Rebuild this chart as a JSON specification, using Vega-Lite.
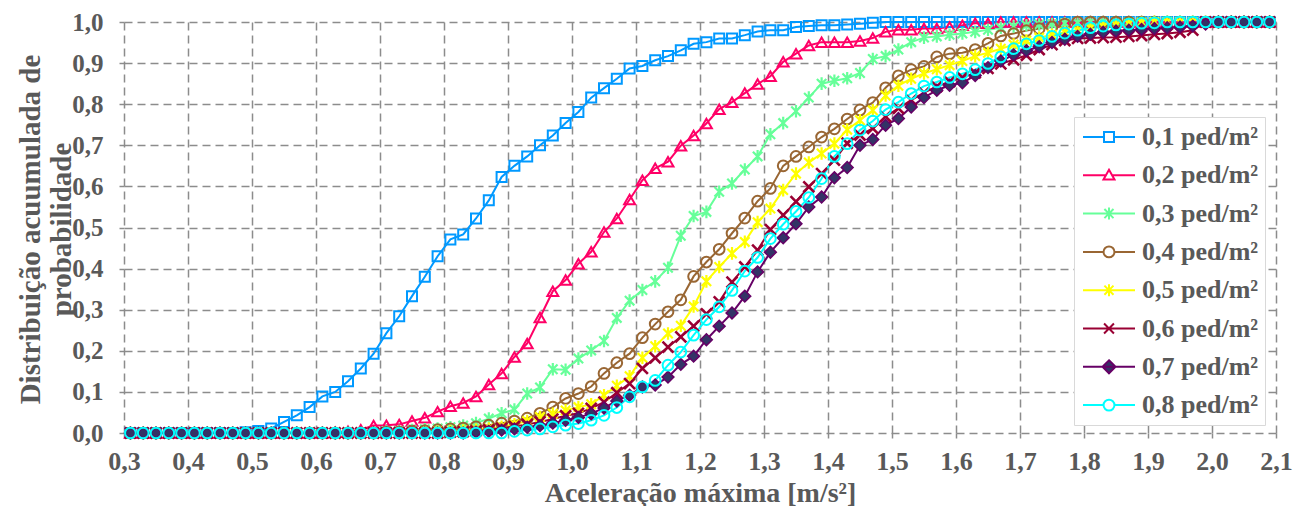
{
"$schema": "https://vega.github.io/schema/vega-lite/v6.json",
"width": 1152, "height": 411,
"autosize": {"type": "none"},
"padding": {"left": 124, "top": 22, "right": 17, "bottom": 73},
"background": "white",
"config": {"view": {"stroke": null}, "font": "Liberation Serif"},
"data": {"values": [
{"serie":"0,1 ped/m²","x":0.31,"y":0},{"serie":"0,1 ped/m²","x":0.33,"y":0},{"serie":"0,1 ped/m²","x":0.35,"y":0},{"serie":"0,1 ped/m²","x":0.37,"y":0},{"serie":"0,1 ped/m²","x":0.39,"y":0},{"serie":"0,1 ped/m²","x":0.41,"y":0},{"serie":"0,1 ped/m²","x":0.43,"y":0},{"serie":"0,1 ped/m²","x":0.45,"y":0},{"serie":"0,1 ped/m²","x":0.47,"y":0},{"serie":"0,1 ped/m²","x":0.49,"y":0.002},{"serie":"0,1 ped/m²","x":0.51,"y":0.005},{"serie":"0,1 ped/m²","x":0.53,"y":0.011},{"serie":"0,1 ped/m²","x":0.55,"y":0.027},{"serie":"0,1 ped/m²","x":0.57,"y":0.043},{"serie":"0,1 ped/m²","x":0.59,"y":0.063},{"serie":"0,1 ped/m²","x":0.61,"y":0.089},{"serie":"0,1 ped/m²","x":0.63,"y":0.100},{"serie":"0,1 ped/m²","x":0.65,"y":0.126},{"serie":"0,1 ped/m²","x":0.67,"y":0.157},{"serie":"0,1 ped/m²","x":0.69,"y":0.193},{"serie":"0,1 ped/m²","x":0.71,"y":0.243},{"serie":"0,1 ped/m²","x":0.73,"y":0.284},{"serie":"0,1 ped/m²","x":0.75,"y":0.333},{"serie":"0,1 ped/m²","x":0.77,"y":0.380},{"serie":"0,1 ped/m²","x":0.79,"y":0.430},{"serie":"0,1 ped/m²","x":0.81,"y":0.471},{"serie":"0,1 ped/m²","x":0.83,"y":0.483},{"serie":"0,1 ped/m²","x":0.85,"y":0.522},{"serie":"0,1 ped/m²","x":0.87,"y":0.566},{"serie":"0,1 ped/m²","x":0.89,"y":0.623},{"serie":"0,1 ped/m²","x":0.91,"y":0.650},{"serie":"0,1 ped/m²","x":0.93,"y":0.673},{"serie":"0,1 ped/m²","x":0.95,"y":0.700},{"serie":"0,1 ped/m²","x":0.97,"y":0.724},{"serie":"0,1 ped/m²","x":0.99,"y":0.754},{"serie":"0,1 ped/m²","x":1.01,"y":0.781},{"serie":"0,1 ped/m²","x":1.03,"y":0.816},{"serie":"0,1 ped/m²","x":1.05,"y":0.839},{"serie":"0,1 ped/m²","x":1.07,"y":0.862},{"serie":"0,1 ped/m²","x":1.09,"y":0.887},{"serie":"0,1 ped/m²","x":1.11,"y":0.893},{"serie":"0,1 ped/m²","x":1.13,"y":0.907},{"serie":"0,1 ped/m²","x":1.15,"y":0.917},{"serie":"0,1 ped/m²","x":1.17,"y":0.931},{"serie":"0,1 ped/m²","x":1.19,"y":0.947},{"serie":"0,1 ped/m²","x":1.21,"y":0.951},{"serie":"0,1 ped/m²","x":1.23,"y":0.960},{"serie":"0,1 ped/m²","x":1.25,"y":0.960},{"serie":"0,1 ped/m²","x":1.27,"y":0.968},{"serie":"0,1 ped/m²","x":1.29,"y":0.977},{"serie":"0,1 ped/m²","x":1.31,"y":0.980},{"serie":"0,1 ped/m²","x":1.33,"y":0.980},{"serie":"0,1 ped/m²","x":1.35,"y":0.988},{"serie":"0,1 ped/m²","x":1.37,"y":0.990},{"serie":"0,1 ped/m²","x":1.39,"y":0.992},{"serie":"0,1 ped/m²","x":1.41,"y":0.992},{"serie":"0,1 ped/m²","x":1.43,"y":0.994},{"serie":"0,1 ped/m²","x":1.45,"y":0.996},{"serie":"0,1 ped/m²","x":1.47,"y":0.998},{"serie":"0,1 ped/m²","x":1.49,"y":1},{"serie":"0,1 ped/m²","x":1.51,"y":1},{"serie":"0,1 ped/m²","x":1.53,"y":1},{"serie":"0,1 ped/m²","x":1.55,"y":1},{"serie":"0,1 ped/m²","x":1.57,"y":1},{"serie":"0,1 ped/m²","x":1.59,"y":1},{"serie":"0,1 ped/m²","x":1.61,"y":1},{"serie":"0,1 ped/m²","x":1.63,"y":1},{"serie":"0,1 ped/m²","x":1.65,"y":1},{"serie":"0,1 ped/m²","x":1.67,"y":1},{"serie":"0,1 ped/m²","x":1.69,"y":1},{"serie":"0,1 ped/m²","x":1.71,"y":1},{"serie":"0,1 ped/m²","x":1.73,"y":1},{"serie":"0,1 ped/m²","x":1.75,"y":1},{"serie":"0,1 ped/m²","x":1.77,"y":1},{"serie":"0,1 ped/m²","x":1.79,"y":1},{"serie":"0,1 ped/m²","x":1.81,"y":1},{"serie":"0,1 ped/m²","x":1.83,"y":1},{"serie":"0,1 ped/m²","x":1.85,"y":1},{"serie":"0,1 ped/m²","x":1.87,"y":1},{"serie":"0,1 ped/m²","x":1.89,"y":1},{"serie":"0,1 ped/m²","x":1.91,"y":1},{"serie":"0,1 ped/m²","x":1.93,"y":1},{"serie":"0,1 ped/m²","x":1.95,"y":1},{"serie":"0,1 ped/m²","x":1.97,"y":1},{"serie":"0,1 ped/m²","x":1.99,"y":1},{"serie":"0,1 ped/m²","x":2.01,"y":1},{"serie":"0,1 ped/m²","x":2.03,"y":1},{"serie":"0,1 ped/m²","x":2.05,"y":1},{"serie":"0,1 ped/m²","x":2.07,"y":1},{"serie":"0,1 ped/m²","x":2.09,"y":1},
{"serie":"0,2 ped/m²","x":0.31,"y":0},{"serie":"0,2 ped/m²","x":0.33,"y":0},{"serie":"0,2 ped/m²","x":0.35,"y":0},{"serie":"0,2 ped/m²","x":0.37,"y":0},{"serie":"0,2 ped/m²","x":0.39,"y":0},{"serie":"0,2 ped/m²","x":0.41,"y":0},{"serie":"0,2 ped/m²","x":0.43,"y":0},{"serie":"0,2 ped/m²","x":0.45,"y":0},{"serie":"0,2 ped/m²","x":0.47,"y":0},{"serie":"0,2 ped/m²","x":0.49,"y":0},{"serie":"0,2 ped/m²","x":0.51,"y":0},{"serie":"0,2 ped/m²","x":0.53,"y":0},{"serie":"0,2 ped/m²","x":0.55,"y":0},{"serie":"0,2 ped/m²","x":0.57,"y":0},{"serie":"0,2 ped/m²","x":0.59,"y":0},{"serie":"0,2 ped/m²","x":0.61,"y":0},{"serie":"0,2 ped/m²","x":0.63,"y":0.002},{"serie":"0,2 ped/m²","x":0.65,"y":0.004},{"serie":"0,2 ped/m²","x":0.67,"y":0.008},{"serie":"0,2 ped/m²","x":0.69,"y":0.018},{"serie":"0,2 ped/m²","x":0.71,"y":0.019},{"serie":"0,2 ped/m²","x":0.73,"y":0.021},{"serie":"0,2 ped/m²","x":0.75,"y":0.029},{"serie":"0,2 ped/m²","x":0.77,"y":0.037},{"serie":"0,2 ped/m²","x":0.79,"y":0.052},{"serie":"0,2 ped/m²","x":0.81,"y":0.065},{"serie":"0,2 ped/m²","x":0.83,"y":0.073},{"serie":"0,2 ped/m²","x":0.85,"y":0.089},{"serie":"0,2 ped/m²","x":0.87,"y":0.118},{"serie":"0,2 ped/m²","x":0.89,"y":0.145},{"serie":"0,2 ped/m²","x":0.91,"y":0.185},{"serie":"0,2 ped/m²","x":0.93,"y":0.218},{"serie":"0,2 ped/m²","x":0.95,"y":0.281},{"serie":"0,2 ped/m²","x":0.97,"y":0.345},{"serie":"0,2 ped/m²","x":0.99,"y":0.372},{"serie":"0,2 ped/m²","x":1.01,"y":0.412},{"serie":"0,2 ped/m²","x":1.03,"y":0.441},{"serie":"0,2 ped/m²","x":1.05,"y":0.489},{"serie":"0,2 ped/m²","x":1.07,"y":0.522},{"serie":"0,2 ped/m²","x":1.09,"y":0.568},{"serie":"0,2 ped/m²","x":1.11,"y":0.615},{"serie":"0,2 ped/m²","x":1.13,"y":0.644},{"serie":"0,2 ped/m²","x":1.15,"y":0.660},{"serie":"0,2 ped/m²","x":1.17,"y":0.699},{"serie":"0,2 ped/m²","x":1.19,"y":0.724},{"serie":"0,2 ped/m²","x":1.21,"y":0.753},{"serie":"0,2 ped/m²","x":1.23,"y":0.788},{"serie":"0,2 ped/m²","x":1.25,"y":0.805},{"serie":"0,2 ped/m²","x":1.27,"y":0.827},{"serie":"0,2 ped/m²","x":1.29,"y":0.849},{"serie":"0,2 ped/m²","x":1.31,"y":0.868},{"serie":"0,2 ped/m²","x":1.33,"y":0.903},{"serie":"0,2 ped/m²","x":1.35,"y":0.923},{"serie":"0,2 ped/m²","x":1.37,"y":0.943},{"serie":"0,2 ped/m²","x":1.39,"y":0.951},{"serie":"0,2 ped/m²","x":1.41,"y":0.951},{"serie":"0,2 ped/m²","x":1.43,"y":0.951},{"serie":"0,2 ped/m²","x":1.45,"y":0.954},{"serie":"0,2 ped/m²","x":1.47,"y":0.961},{"serie":"0,2 ped/m²","x":1.49,"y":0.976},{"serie":"0,2 ped/m²","x":1.51,"y":0.981},{"serie":"0,2 ped/m²","x":1.53,"y":0.981},{"serie":"0,2 ped/m²","x":1.55,"y":0.984},{"serie":"0,2 ped/m²","x":1.57,"y":0.984},{"serie":"0,2 ped/m²","x":1.59,"y":0.988},{"serie":"0,2 ped/m²","x":1.61,"y":0.992},{"serie":"0,2 ped/m²","x":1.63,"y":0.997},{"serie":"0,2 ped/m²","x":1.65,"y":0.997},{"serie":"0,2 ped/m²","x":1.67,"y":1},{"serie":"0,2 ped/m²","x":1.69,"y":1},{"serie":"0,2 ped/m²","x":1.71,"y":1},{"serie":"0,2 ped/m²","x":1.73,"y":1},{"serie":"0,2 ped/m²","x":1.75,"y":1},{"serie":"0,2 ped/m²","x":1.77,"y":1},{"serie":"0,2 ped/m²","x":1.79,"y":1},{"serie":"0,2 ped/m²","x":1.81,"y":1},{"serie":"0,2 ped/m²","x":1.83,"y":1},{"serie":"0,2 ped/m²","x":1.85,"y":1},{"serie":"0,2 ped/m²","x":1.87,"y":1},{"serie":"0,2 ped/m²","x":1.89,"y":1},{"serie":"0,2 ped/m²","x":1.91,"y":1},{"serie":"0,2 ped/m²","x":1.93,"y":1},{"serie":"0,2 ped/m²","x":1.95,"y":1},{"serie":"0,2 ped/m²","x":1.97,"y":1},{"serie":"0,2 ped/m²","x":1.99,"y":1},{"serie":"0,2 ped/m²","x":2.01,"y":1},{"serie":"0,2 ped/m²","x":2.03,"y":1},{"serie":"0,2 ped/m²","x":2.05,"y":1},{"serie":"0,2 ped/m²","x":2.07,"y":1},{"serie":"0,2 ped/m²","x":2.09,"y":1},
{"serie":"0,3 ped/m²","x":0.31,"y":0},{"serie":"0,3 ped/m²","x":0.33,"y":0},{"serie":"0,3 ped/m²","x":0.35,"y":0},{"serie":"0,3 ped/m²","x":0.37,"y":0},{"serie":"0,3 ped/m²","x":0.39,"y":0},{"serie":"0,3 ped/m²","x":0.41,"y":0},{"serie":"0,3 ped/m²","x":0.43,"y":0},{"serie":"0,3 ped/m²","x":0.45,"y":0},{"serie":"0,3 ped/m²","x":0.47,"y":0},{"serie":"0,3 ped/m²","x":0.49,"y":0},{"serie":"0,3 ped/m²","x":0.51,"y":0},{"serie":"0,3 ped/m²","x":0.53,"y":0},{"serie":"0,3 ped/m²","x":0.55,"y":0},{"serie":"0,3 ped/m²","x":0.57,"y":0},{"serie":"0,3 ped/m²","x":0.59,"y":0},{"serie":"0,3 ped/m²","x":0.61,"y":0},{"serie":"0,3 ped/m²","x":0.63,"y":0},{"serie":"0,3 ped/m²","x":0.65,"y":0},{"serie":"0,3 ped/m²","x":0.67,"y":0},{"serie":"0,3 ped/m²","x":0.69,"y":0.002},{"serie":"0,3 ped/m²","x":0.71,"y":0.004},{"serie":"0,3 ped/m²","x":0.73,"y":0.005},{"serie":"0,3 ped/m²","x":0.75,"y":0.007},{"serie":"0,3 ped/m²","x":0.77,"y":0.009},{"serie":"0,3 ped/m²","x":0.79,"y":0.011},{"serie":"0,3 ped/m²","x":0.81,"y":0.014},{"serie":"0,3 ped/m²","x":0.83,"y":0.018},{"serie":"0,3 ped/m²","x":0.85,"y":0.024},{"serie":"0,3 ped/m²","x":0.87,"y":0.035},{"serie":"0,3 ped/m²","x":0.89,"y":0.048},{"serie":"0,3 ped/m²","x":0.91,"y":0.057},{"serie":"0,3 ped/m²","x":0.93,"y":0.096},{"serie":"0,3 ped/m²","x":0.95,"y":0.111},{"serie":"0,3 ped/m²","x":0.97,"y":0.155},{"serie":"0,3 ped/m²","x":0.99,"y":0.154},{"serie":"0,3 ped/m²","x":1.01,"y":0.181},{"serie":"0,3 ped/m²","x":1.03,"y":0.201},{"serie":"0,3 ped/m²","x":1.05,"y":0.224},{"serie":"0,3 ped/m²","x":1.07,"y":0.280},{"serie":"0,3 ped/m²","x":1.09,"y":0.322},{"serie":"0,3 ped/m²","x":1.11,"y":0.348},{"serie":"0,3 ped/m²","x":1.13,"y":0.369},{"serie":"0,3 ped/m²","x":1.15,"y":0.402},{"serie":"0,3 ped/m²","x":1.17,"y":0.480},{"serie":"0,3 ped/m²","x":1.19,"y":0.528},{"serie":"0,3 ped/m²","x":1.21,"y":0.538},{"serie":"0,3 ped/m²","x":1.23,"y":0.587},{"serie":"0,3 ped/m²","x":1.25,"y":0.607},{"serie":"0,3 ped/m²","x":1.27,"y":0.641},{"serie":"0,3 ped/m²","x":1.29,"y":0.673},{"serie":"0,3 ped/m²","x":1.31,"y":0.727},{"serie":"0,3 ped/m²","x":1.33,"y":0.754},{"serie":"0,3 ped/m²","x":1.35,"y":0.783},{"serie":"0,3 ped/m²","x":1.37,"y":0.816},{"serie":"0,3 ped/m²","x":1.39,"y":0.850},{"serie":"0,3 ped/m²","x":1.41,"y":0.857},{"serie":"0,3 ped/m²","x":1.43,"y":0.863},{"serie":"0,3 ped/m²","x":1.45,"y":0.876},{"serie":"0,3 ped/m²","x":1.47,"y":0.910},{"serie":"0,3 ped/m²","x":1.49,"y":0.917},{"serie":"0,3 ped/m²","x":1.51,"y":0.933},{"serie":"0,3 ped/m²","x":1.53,"y":0.951},{"serie":"0,3 ped/m²","x":1.55,"y":0.962},{"serie":"0,3 ped/m²","x":1.57,"y":0.965},{"serie":"0,3 ped/m²","x":1.59,"y":0.969},{"serie":"0,3 ped/m²","x":1.61,"y":0.972},{"serie":"0,3 ped/m²","x":1.63,"y":0.976},{"serie":"0,3 ped/m²","x":1.65,"y":0.981},{"serie":"0,3 ped/m²","x":1.67,"y":0.986},{"serie":"0,3 ped/m²","x":1.69,"y":0.989},{"serie":"0,3 ped/m²","x":1.71,"y":0.992},{"serie":"0,3 ped/m²","x":1.73,"y":0.994},{"serie":"0,3 ped/m²","x":1.75,"y":0.995},{"serie":"0,3 ped/m²","x":1.77,"y":0.997},{"serie":"0,3 ped/m²","x":1.79,"y":0.998},{"serie":"0,3 ped/m²","x":1.81,"y":1},{"serie":"0,3 ped/m²","x":1.83,"y":1},{"serie":"0,3 ped/m²","x":1.85,"y":1},{"serie":"0,3 ped/m²","x":1.87,"y":1},{"serie":"0,3 ped/m²","x":1.89,"y":1},{"serie":"0,3 ped/m²","x":1.91,"y":1},{"serie":"0,3 ped/m²","x":1.93,"y":1},{"serie":"0,3 ped/m²","x":1.95,"y":1},{"serie":"0,3 ped/m²","x":1.97,"y":1},{"serie":"0,3 ped/m²","x":1.99,"y":1},{"serie":"0,3 ped/m²","x":2.01,"y":1},{"serie":"0,3 ped/m²","x":2.03,"y":1},{"serie":"0,3 ped/m²","x":2.05,"y":1},{"serie":"0,3 ped/m²","x":2.07,"y":1},{"serie":"0,3 ped/m²","x":2.09,"y":1},
{"serie":"0,4 ped/m²","x":0.31,"y":0},{"serie":"0,4 ped/m²","x":0.33,"y":0},{"serie":"0,4 ped/m²","x":0.35,"y":0},{"serie":"0,4 ped/m²","x":0.37,"y":0},{"serie":"0,4 ped/m²","x":0.39,"y":0},{"serie":"0,4 ped/m²","x":0.41,"y":0},{"serie":"0,4 ped/m²","x":0.43,"y":0},{"serie":"0,4 ped/m²","x":0.45,"y":0},{"serie":"0,4 ped/m²","x":0.47,"y":0},{"serie":"0,4 ped/m²","x":0.49,"y":0},{"serie":"0,4 ped/m²","x":0.51,"y":0},{"serie":"0,4 ped/m²","x":0.53,"y":0},{"serie":"0,4 ped/m²","x":0.55,"y":0},{"serie":"0,4 ped/m²","x":0.57,"y":0},{"serie":"0,4 ped/m²","x":0.59,"y":0},{"serie":"0,4 ped/m²","x":0.61,"y":0},{"serie":"0,4 ped/m²","x":0.63,"y":0},{"serie":"0,4 ped/m²","x":0.65,"y":0},{"serie":"0,4 ped/m²","x":0.67,"y":0},{"serie":"0,4 ped/m²","x":0.69,"y":0},{"serie":"0,4 ped/m²","x":0.71,"y":0.002},{"serie":"0,4 ped/m²","x":0.73,"y":0.003},{"serie":"0,4 ped/m²","x":0.75,"y":0.004},{"serie":"0,4 ped/m²","x":0.77,"y":0.006},{"serie":"0,4 ped/m²","x":0.79,"y":0.008},{"serie":"0,4 ped/m²","x":0.81,"y":0.010},{"serie":"0,4 ped/m²","x":0.83,"y":0.012},{"serie":"0,4 ped/m²","x":0.85,"y":0.015},{"serie":"0,4 ped/m²","x":0.87,"y":0.019},{"serie":"0,4 ped/m²","x":0.89,"y":0.024},{"serie":"0,4 ped/m²","x":0.91,"y":0.029},{"serie":"0,4 ped/m²","x":0.93,"y":0.036},{"serie":"0,4 ped/m²","x":0.95,"y":0.048},{"serie":"0,4 ped/m²","x":0.97,"y":0.063},{"serie":"0,4 ped/m²","x":0.99,"y":0.084},{"serie":"0,4 ped/m²","x":1.01,"y":0.096},{"serie":"0,4 ped/m²","x":1.03,"y":0.113},{"serie":"0,4 ped/m²","x":1.05,"y":0.145},{"serie":"0,4 ped/m²","x":1.07,"y":0.171},{"serie":"0,4 ped/m²","x":1.09,"y":0.193},{"serie":"0,4 ped/m²","x":1.11,"y":0.232},{"serie":"0,4 ped/m²","x":1.13,"y":0.265},{"serie":"0,4 ped/m²","x":1.15,"y":0.295},{"serie":"0,4 ped/m²","x":1.17,"y":0.324},{"serie":"0,4 ped/m²","x":1.19,"y":0.381},{"serie":"0,4 ped/m²","x":1.21,"y":0.416},{"serie":"0,4 ped/m²","x":1.23,"y":0.447},{"serie":"0,4 ped/m²","x":1.25,"y":0.486},{"serie":"0,4 ped/m²","x":1.27,"y":0.523},{"serie":"0,4 ped/m²","x":1.29,"y":0.564},{"serie":"0,4 ped/m²","x":1.31,"y":0.595},{"serie":"0,4 ped/m²","x":1.33,"y":0.650},{"serie":"0,4 ped/m²","x":1.35,"y":0.673},{"serie":"0,4 ped/m²","x":1.37,"y":0.696},{"serie":"0,4 ped/m²","x":1.39,"y":0.720},{"serie":"0,4 ped/m²","x":1.41,"y":0.740},{"serie":"0,4 ped/m²","x":1.43,"y":0.764},{"serie":"0,4 ped/m²","x":1.45,"y":0.786},{"serie":"0,4 ped/m²","x":1.47,"y":0.804},{"serie":"0,4 ped/m²","x":1.49,"y":0.840},{"serie":"0,4 ped/m²","x":1.51,"y":0.869},{"serie":"0,4 ped/m²","x":1.53,"y":0.884},{"serie":"0,4 ped/m²","x":1.55,"y":0.892},{"serie":"0,4 ped/m²","x":1.57,"y":0.915},{"serie":"0,4 ped/m²","x":1.59,"y":0.923},{"serie":"0,4 ped/m²","x":1.61,"y":0.925},{"serie":"0,4 ped/m²","x":1.63,"y":0.933},{"serie":"0,4 ped/m²","x":1.65,"y":0.948},{"serie":"0,4 ped/m²","x":1.67,"y":0.966},{"serie":"0,4 ped/m²","x":1.69,"y":0.972},{"serie":"0,4 ped/m²","x":1.71,"y":0.979},{"serie":"0,4 ped/m²","x":1.73,"y":0.984},{"serie":"0,4 ped/m²","x":1.75,"y":0.988},{"serie":"0,4 ped/m²","x":1.77,"y":0.995},{"serie":"0,4 ped/m²","x":1.79,"y":1},{"serie":"0,4 ped/m²","x":1.81,"y":1},{"serie":"0,4 ped/m²","x":1.83,"y":1},{"serie":"0,4 ped/m²","x":1.85,"y":1},{"serie":"0,4 ped/m²","x":1.87,"y":1},{"serie":"0,4 ped/m²","x":1.89,"y":1},{"serie":"0,4 ped/m²","x":1.91,"y":1},{"serie":"0,4 ped/m²","x":1.93,"y":1},{"serie":"0,4 ped/m²","x":1.95,"y":1},{"serie":"0,4 ped/m²","x":1.97,"y":1},{"serie":"0,4 ped/m²","x":1.99,"y":1},{"serie":"0,4 ped/m²","x":2.01,"y":1},{"serie":"0,4 ped/m²","x":2.03,"y":1},{"serie":"0,4 ped/m²","x":2.05,"y":1},{"serie":"0,4 ped/m²","x":2.07,"y":1},{"serie":"0,4 ped/m²","x":2.09,"y":1},
{"serie":"0,5 ped/m²","x":0.31,"y":0},{"serie":"0,5 ped/m²","x":0.33,"y":0},{"serie":"0,5 ped/m²","x":0.35,"y":0},{"serie":"0,5 ped/m²","x":0.37,"y":0},{"serie":"0,5 ped/m²","x":0.39,"y":0},{"serie":"0,5 ped/m²","x":0.41,"y":0},{"serie":"0,5 ped/m²","x":0.43,"y":0},{"serie":"0,5 ped/m²","x":0.45,"y":0},{"serie":"0,5 ped/m²","x":0.47,"y":0},{"serie":"0,5 ped/m²","x":0.49,"y":0},{"serie":"0,5 ped/m²","x":0.51,"y":0},{"serie":"0,5 ped/m²","x":0.53,"y":0},{"serie":"0,5 ped/m²","x":0.55,"y":0},{"serie":"0,5 ped/m²","x":0.57,"y":0},{"serie":"0,5 ped/m²","x":0.59,"y":0},{"serie":"0,5 ped/m²","x":0.61,"y":0},{"serie":"0,5 ped/m²","x":0.63,"y":0},{"serie":"0,5 ped/m²","x":0.65,"y":0},{"serie":"0,5 ped/m²","x":0.67,"y":0},{"serie":"0,5 ped/m²","x":0.69,"y":0},{"serie":"0,5 ped/m²","x":0.71,"y":0},{"serie":"0,5 ped/m²","x":0.73,"y":0},{"serie":"0,5 ped/m²","x":0.75,"y":0},{"serie":"0,5 ped/m²","x":0.77,"y":0.002},{"serie":"0,5 ped/m²","x":0.79,"y":0.003},{"serie":"0,5 ped/m²","x":0.81,"y":0.004},{"serie":"0,5 ped/m²","x":0.83,"y":0.006},{"serie":"0,5 ped/m²","x":0.85,"y":0.008},{"serie":"0,5 ped/m²","x":0.87,"y":0.011},{"serie":"0,5 ped/m²","x":0.89,"y":0.015},{"serie":"0,5 ped/m²","x":0.91,"y":0.021},{"serie":"0,5 ped/m²","x":0.93,"y":0.029},{"serie":"0,5 ped/m²","x":0.95,"y":0.039},{"serie":"0,5 ped/m²","x":0.97,"y":0.047},{"serie":"0,5 ped/m²","x":0.99,"y":0.055},{"serie":"0,5 ped/m²","x":1.01,"y":0.063},{"serie":"0,5 ped/m²","x":1.03,"y":0.070},{"serie":"0,5 ped/m²","x":1.05,"y":0.092},{"serie":"0,5 ped/m²","x":1.07,"y":0.115},{"serie":"0,5 ped/m²","x":1.09,"y":0.138},{"serie":"0,5 ped/m²","x":1.11,"y":0.183},{"serie":"0,5 ped/m²","x":1.13,"y":0.211},{"serie":"0,5 ped/m²","x":1.15,"y":0.242},{"serie":"0,5 ped/m²","x":1.17,"y":0.261},{"serie":"0,5 ped/m²","x":1.19,"y":0.308},{"serie":"0,5 ped/m²","x":1.21,"y":0.369},{"serie":"0,5 ped/m²","x":1.23,"y":0.404},{"serie":"0,5 ped/m²","x":1.25,"y":0.437},{"serie":"0,5 ped/m²","x":1.27,"y":0.465},{"serie":"0,5 ped/m²","x":1.29,"y":0.513},{"serie":"0,5 ped/m²","x":1.31,"y":0.546},{"serie":"0,5 ped/m²","x":1.33,"y":0.591},{"serie":"0,5 ped/m²","x":1.35,"y":0.631},{"serie":"0,5 ped/m²","x":1.37,"y":0.658},{"serie":"0,5 ped/m²","x":1.39,"y":0.680},{"serie":"0,5 ped/m²","x":1.41,"y":0.704},{"serie":"0,5 ped/m²","x":1.43,"y":0.738},{"serie":"0,5 ped/m²","x":1.45,"y":0.761},{"serie":"0,5 ped/m²","x":1.47,"y":0.785},{"serie":"0,5 ped/m²","x":1.49,"y":0.821},{"serie":"0,5 ped/m²","x":1.51,"y":0.845},{"serie":"0,5 ped/m²","x":1.53,"y":0.862},{"serie":"0,5 ped/m²","x":1.55,"y":0.875},{"serie":"0,5 ped/m²","x":1.57,"y":0.885},{"serie":"0,5 ped/m²","x":1.59,"y":0.895},{"serie":"0,5 ped/m²","x":1.61,"y":0.905},{"serie":"0,5 ped/m²","x":1.63,"y":0.917},{"serie":"0,5 ped/m²","x":1.65,"y":0.925},{"serie":"0,5 ped/m²","x":1.67,"y":0.935},{"serie":"0,5 ped/m²","x":1.69,"y":0.945},{"serie":"0,5 ped/m²","x":1.71,"y":0.955},{"serie":"0,5 ped/m²","x":1.73,"y":0.962},{"serie":"0,5 ped/m²","x":1.75,"y":0.969},{"serie":"0,5 ped/m²","x":1.77,"y":0.975},{"serie":"0,5 ped/m²","x":1.79,"y":0.980},{"serie":"0,5 ped/m²","x":1.81,"y":0.985},{"serie":"0,5 ped/m²","x":1.83,"y":0.989},{"serie":"0,5 ped/m²","x":1.85,"y":0.992},{"serie":"0,5 ped/m²","x":1.87,"y":0.995},{"serie":"0,5 ped/m²","x":1.89,"y":0.998},{"serie":"0,5 ped/m²","x":1.91,"y":1},{"serie":"0,5 ped/m²","x":1.93,"y":1},{"serie":"0,5 ped/m²","x":1.95,"y":1},{"serie":"0,5 ped/m²","x":1.97,"y":1},{"serie":"0,5 ped/m²","x":1.99,"y":1},{"serie":"0,5 ped/m²","x":2.01,"y":1},{"serie":"0,5 ped/m²","x":2.03,"y":1},{"serie":"0,5 ped/m²","x":2.05,"y":1},{"serie":"0,5 ped/m²","x":2.07,"y":1},{"serie":"0,5 ped/m²","x":2.09,"y":1},
{"serie":"0,6 ped/m²","x":0.31,"y":0},{"serie":"0,6 ped/m²","x":0.33,"y":0},{"serie":"0,6 ped/m²","x":0.35,"y":0},{"serie":"0,6 ped/m²","x":0.37,"y":0},{"serie":"0,6 ped/m²","x":0.39,"y":0},{"serie":"0,6 ped/m²","x":0.41,"y":0},{"serie":"0,6 ped/m²","x":0.43,"y":0},{"serie":"0,6 ped/m²","x":0.45,"y":0},{"serie":"0,6 ped/m²","x":0.47,"y":0},{"serie":"0,6 ped/m²","x":0.49,"y":0},{"serie":"0,6 ped/m²","x":0.51,"y":0},{"serie":"0,6 ped/m²","x":0.53,"y":0},{"serie":"0,6 ped/m²","x":0.55,"y":0},{"serie":"0,6 ped/m²","x":0.57,"y":0},{"serie":"0,6 ped/m²","x":0.59,"y":0},{"serie":"0,6 ped/m²","x":0.61,"y":0},{"serie":"0,6 ped/m²","x":0.63,"y":0},{"serie":"0,6 ped/m²","x":0.65,"y":0},{"serie":"0,6 ped/m²","x":0.67,"y":0},{"serie":"0,6 ped/m²","x":0.69,"y":0},{"serie":"0,6 ped/m²","x":0.71,"y":0},{"serie":"0,6 ped/m²","x":0.73,"y":0},{"serie":"0,6 ped/m²","x":0.75,"y":0},{"serie":"0,6 ped/m²","x":0.77,"y":0},{"serie":"0,6 ped/m²","x":0.79,"y":0},{"serie":"0,6 ped/m²","x":0.81,"y":0.002},{"serie":"0,6 ped/m²","x":0.83,"y":0.003},{"serie":"0,6 ped/m²","x":0.85,"y":0.005},{"serie":"0,6 ped/m²","x":0.87,"y":0.008},{"serie":"0,6 ped/m²","x":0.89,"y":0.012},{"serie":"0,6 ped/m²","x":0.91,"y":0.016},{"serie":"0,6 ped/m²","x":0.93,"y":0.021},{"serie":"0,6 ped/m²","x":0.95,"y":0.027},{"serie":"0,6 ped/m²","x":0.97,"y":0.034},{"serie":"0,6 ped/m²","x":0.99,"y":0.042},{"serie":"0,6 ped/m²","x":1.01,"y":0.048},{"serie":"0,6 ped/m²","x":1.03,"y":0.060},{"serie":"0,6 ped/m²","x":1.05,"y":0.075},{"serie":"0,6 ped/m²","x":1.07,"y":0.098},{"serie":"0,6 ped/m²","x":1.09,"y":0.120},{"serie":"0,6 ped/m²","x":1.11,"y":0.157},{"serie":"0,6 ped/m²","x":1.13,"y":0.183},{"serie":"0,6 ped/m²","x":1.15,"y":0.209},{"serie":"0,6 ped/m²","x":1.17,"y":0.234},{"serie":"0,6 ped/m²","x":1.19,"y":0.260},{"serie":"0,6 ped/m²","x":1.21,"y":0.290},{"serie":"0,6 ped/m²","x":1.23,"y":0.319},{"serie":"0,6 ped/m²","x":1.25,"y":0.367},{"serie":"0,6 ped/m²","x":1.27,"y":0.404},{"serie":"0,6 ped/m²","x":1.29,"y":0.445},{"serie":"0,6 ped/m²","x":1.31,"y":0.495},{"serie":"0,6 ped/m²","x":1.33,"y":0.530},{"serie":"0,6 ped/m²","x":1.35,"y":0.563},{"serie":"0,6 ped/m²","x":1.37,"y":0.599},{"serie":"0,6 ped/m²","x":1.39,"y":0.631},{"serie":"0,6 ped/m²","x":1.41,"y":0.664},{"serie":"0,6 ped/m²","x":1.43,"y":0.705},{"serie":"0,6 ped/m²","x":1.45,"y":0.725},{"serie":"0,6 ped/m²","x":1.47,"y":0.741},{"serie":"0,6 ped/m²","x":1.49,"y":0.770},{"serie":"0,6 ped/m²","x":1.51,"y":0.790},{"serie":"0,6 ped/m²","x":1.53,"y":0.810},{"serie":"0,6 ped/m²","x":1.55,"y":0.828},{"serie":"0,6 ped/m²","x":1.57,"y":0.843},{"serie":"0,6 ped/m²","x":1.59,"y":0.855},{"serie":"0,6 ped/m²","x":1.61,"y":0.865},{"serie":"0,6 ped/m²","x":1.63,"y":0.876},{"serie":"0,6 ped/m²","x":1.65,"y":0.887},{"serie":"0,6 ped/m²","x":1.67,"y":0.898},{"serie":"0,6 ped/m²","x":1.69,"y":0.908},{"serie":"0,6 ped/m²","x":1.71,"y":0.919},{"serie":"0,6 ped/m²","x":1.73,"y":0.933},{"serie":"0,6 ped/m²","x":1.75,"y":0.945},{"serie":"0,6 ped/m²","x":1.77,"y":0.955},{"serie":"0,6 ped/m²","x":1.79,"y":0.960},{"serie":"0,6 ped/m²","x":1.81,"y":0.961},{"serie":"0,6 ped/m²","x":1.83,"y":0.962},{"serie":"0,6 ped/m²","x":1.85,"y":0.963},{"serie":"0,6 ped/m²","x":1.87,"y":0.965},{"serie":"0,6 ped/m²","x":1.89,"y":0.967},{"serie":"0,6 ped/m²","x":1.91,"y":0.970},{"serie":"0,6 ped/m²","x":1.93,"y":0.972},{"serie":"0,6 ped/m²","x":1.95,"y":0.975},{"serie":"0,6 ped/m²","x":1.97,"y":0.980},{"serie":"0,6 ped/m²","x":1.99,"y":1},{"serie":"0,6 ped/m²","x":2.01,"y":1},{"serie":"0,6 ped/m²","x":2.03,"y":1},{"serie":"0,6 ped/m²","x":2.05,"y":1},{"serie":"0,6 ped/m²","x":2.07,"y":1},{"serie":"0,6 ped/m²","x":2.09,"y":1},
{"serie":"0,7 ped/m²","x":0.31,"y":0},{"serie":"0,7 ped/m²","x":0.33,"y":0},{"serie":"0,7 ped/m²","x":0.35,"y":0},{"serie":"0,7 ped/m²","x":0.37,"y":0},{"serie":"0,7 ped/m²","x":0.39,"y":0},{"serie":"0,7 ped/m²","x":0.41,"y":0},{"serie":"0,7 ped/m²","x":0.43,"y":0},{"serie":"0,7 ped/m²","x":0.45,"y":0},{"serie":"0,7 ped/m²","x":0.47,"y":0},{"serie":"0,7 ped/m²","x":0.49,"y":0},{"serie":"0,7 ped/m²","x":0.51,"y":0},{"serie":"0,7 ped/m²","x":0.53,"y":0},{"serie":"0,7 ped/m²","x":0.55,"y":0},{"serie":"0,7 ped/m²","x":0.57,"y":0},{"serie":"0,7 ped/m²","x":0.59,"y":0},{"serie":"0,7 ped/m²","x":0.61,"y":0},{"serie":"0,7 ped/m²","x":0.63,"y":0},{"serie":"0,7 ped/m²","x":0.65,"y":0},{"serie":"0,7 ped/m²","x":0.67,"y":0},{"serie":"0,7 ped/m²","x":0.69,"y":0},{"serie":"0,7 ped/m²","x":0.71,"y":0},{"serie":"0,7 ped/m²","x":0.73,"y":0},{"serie":"0,7 ped/m²","x":0.75,"y":0},{"serie":"0,7 ped/m²","x":0.77,"y":0},{"serie":"0,7 ped/m²","x":0.79,"y":0},{"serie":"0,7 ped/m²","x":0.81,"y":0},{"serie":"0,7 ped/m²","x":0.83,"y":0},{"serie":"0,7 ped/m²","x":0.85,"y":0.002},{"serie":"0,7 ped/m²","x":0.87,"y":0.004},{"serie":"0,7 ped/m²","x":0.89,"y":0.007},{"serie":"0,7 ped/m²","x":0.91,"y":0.010},{"serie":"0,7 ped/m²","x":0.93,"y":0.014},{"serie":"0,7 ped/m²","x":0.95,"y":0.018},{"serie":"0,7 ped/m²","x":0.97,"y":0.024},{"serie":"0,7 ped/m²","x":0.99,"y":0.031},{"serie":"0,7 ped/m²","x":1.01,"y":0.038},{"serie":"0,7 ped/m²","x":1.03,"y":0.047},{"serie":"0,7 ped/m²","x":1.05,"y":0.061},{"serie":"0,7 ped/m²","x":1.07,"y":0.078},{"serie":"0,7 ped/m²","x":1.09,"y":0.092},{"serie":"0,7 ped/m²","x":1.11,"y":0.112},{"serie":"0,7 ped/m²","x":1.13,"y":0.117},{"serie":"0,7 ped/m²","x":1.15,"y":0.136},{"serie":"0,7 ped/m²","x":1.17,"y":0.167},{"serie":"0,7 ped/m²","x":1.19,"y":0.187},{"serie":"0,7 ped/m²","x":1.21,"y":0.227},{"serie":"0,7 ped/m²","x":1.23,"y":0.260},{"serie":"0,7 ped/m²","x":1.25,"y":0.292},{"serie":"0,7 ped/m²","x":1.27,"y":0.333},{"serie":"0,7 ped/m²","x":1.29,"y":0.392},{"serie":"0,7 ped/m²","x":1.31,"y":0.440},{"serie":"0,7 ped/m²","x":1.33,"y":0.475},{"serie":"0,7 ped/m²","x":1.35,"y":0.509},{"serie":"0,7 ped/m²","x":1.37,"y":0.550},{"serie":"0,7 ped/m²","x":1.39,"y":0.574},{"serie":"0,7 ped/m²","x":1.41,"y":0.621},{"serie":"0,7 ped/m²","x":1.43,"y":0.646},{"serie":"0,7 ped/m²","x":1.45,"y":0.700},{"serie":"0,7 ped/m²","x":1.47,"y":0.714},{"serie":"0,7 ped/m²","x":1.49,"y":0.749},{"serie":"0,7 ped/m²","x":1.51,"y":0.765},{"serie":"0,7 ped/m²","x":1.53,"y":0.793},{"serie":"0,7 ped/m²","x":1.55,"y":0.816},{"serie":"0,7 ped/m²","x":1.57,"y":0.834},{"serie":"0,7 ped/m²","x":1.59,"y":0.846},{"serie":"0,7 ped/m²","x":1.61,"y":0.852},{"serie":"0,7 ped/m²","x":1.63,"y":0.870},{"serie":"0,7 ped/m²","x":1.65,"y":0.889},{"serie":"0,7 ped/m²","x":1.67,"y":0.905},{"serie":"0,7 ped/m²","x":1.69,"y":0.920},{"serie":"0,7 ped/m²","x":1.71,"y":0.930},{"serie":"0,7 ped/m²","x":1.73,"y":0.940},{"serie":"0,7 ped/m²","x":1.75,"y":0.950},{"serie":"0,7 ped/m²","x":1.77,"y":0.958},{"serie":"0,7 ped/m²","x":1.79,"y":0.965},{"serie":"0,7 ped/m²","x":1.81,"y":0.970},{"serie":"0,7 ped/m²","x":1.83,"y":0.975},{"serie":"0,7 ped/m²","x":1.85,"y":0.978},{"serie":"0,7 ped/m²","x":1.87,"y":0.980},{"serie":"0,7 ped/m²","x":1.89,"y":0.982},{"serie":"0,7 ped/m²","x":1.91,"y":0.984},{"serie":"0,7 ped/m²","x":1.93,"y":0.986},{"serie":"0,7 ped/m²","x":1.95,"y":0.988},{"serie":"0,7 ped/m²","x":1.97,"y":0.990},{"serie":"0,7 ped/m²","x":1.99,"y":0.995},{"serie":"0,7 ped/m²","x":2.01,"y":1},{"serie":"0,7 ped/m²","x":2.03,"y":1},{"serie":"0,7 ped/m²","x":2.05,"y":1},{"serie":"0,7 ped/m²","x":2.07,"y":1},{"serie":"0,7 ped/m²","x":2.09,"y":1},
{"serie":"0,8 ped/m²","x":0.31,"y":0},{"serie":"0,8 ped/m²","x":0.33,"y":0},{"serie":"0,8 ped/m²","x":0.35,"y":0},{"serie":"0,8 ped/m²","x":0.37,"y":0},{"serie":"0,8 ped/m²","x":0.39,"y":0},{"serie":"0,8 ped/m²","x":0.41,"y":0},{"serie":"0,8 ped/m²","x":0.43,"y":0},{"serie":"0,8 ped/m²","x":0.45,"y":0},{"serie":"0,8 ped/m²","x":0.47,"y":0},{"serie":"0,8 ped/m²","x":0.49,"y":0},{"serie":"0,8 ped/m²","x":0.51,"y":0},{"serie":"0,8 ped/m²","x":0.53,"y":0},{"serie":"0,8 ped/m²","x":0.55,"y":0},{"serie":"0,8 ped/m²","x":0.57,"y":0},{"serie":"0,8 ped/m²","x":0.59,"y":0},{"serie":"0,8 ped/m²","x":0.61,"y":0},{"serie":"0,8 ped/m²","x":0.63,"y":0},{"serie":"0,8 ped/m²","x":0.65,"y":0},{"serie":"0,8 ped/m²","x":0.67,"y":0},{"serie":"0,8 ped/m²","x":0.69,"y":0},{"serie":"0,8 ped/m²","x":0.71,"y":0},{"serie":"0,8 ped/m²","x":0.73,"y":0},{"serie":"0,8 ped/m²","x":0.75,"y":0},{"serie":"0,8 ped/m²","x":0.77,"y":0},{"serie":"0,8 ped/m²","x":0.79,"y":0},{"serie":"0,8 ped/m²","x":0.81,"y":0},{"serie":"0,8 ped/m²","x":0.83,"y":0},{"serie":"0,8 ped/m²","x":0.85,"y":0},{"serie":"0,8 ped/m²","x":0.87,"y":0},{"serie":"0,8 ped/m²","x":0.89,"y":0},{"serie":"0,8 ped/m²","x":0.91,"y":0.004},{"serie":"0,8 ped/m²","x":0.93,"y":0.007},{"serie":"0,8 ped/m²","x":0.95,"y":0.010},{"serie":"0,8 ped/m²","x":0.97,"y":0.015},{"serie":"0,8 ped/m²","x":0.99,"y":0.019},{"serie":"0,8 ped/m²","x":1.01,"y":0.023},{"serie":"0,8 ped/m²","x":1.03,"y":0.031},{"serie":"0,8 ped/m²","x":1.05,"y":0.043},{"serie":"0,8 ped/m²","x":1.07,"y":0.062},{"serie":"0,8 ped/m²","x":1.09,"y":0.088},{"serie":"0,8 ped/m²","x":1.11,"y":0.112},{"serie":"0,8 ped/m²","x":1.13,"y":0.128},{"serie":"0,8 ped/m²","x":1.15,"y":0.165},{"serie":"0,8 ped/m²","x":1.17,"y":0.197},{"serie":"0,8 ped/m²","x":1.19,"y":0.238},{"serie":"0,8 ped/m²","x":1.21,"y":0.276},{"serie":"0,8 ped/m²","x":1.23,"y":0.307},{"serie":"0,8 ped/m²","x":1.25,"y":0.347},{"serie":"0,8 ped/m²","x":1.27,"y":0.394},{"serie":"0,8 ped/m²","x":1.29,"y":0.427},{"serie":"0,8 ped/m²","x":1.31,"y":0.473},{"serie":"0,8 ped/m²","x":1.33,"y":0.508},{"serie":"0,8 ped/m²","x":1.35,"y":0.539},{"serie":"0,8 ped/m²","x":1.37,"y":0.573},{"serie":"0,8 ped/m²","x":1.39,"y":0.619},{"serie":"0,8 ped/m²","x":1.41,"y":0.673},{"serie":"0,8 ped/m²","x":1.43,"y":0.704},{"serie":"0,8 ped/m²","x":1.45,"y":0.737},{"serie":"0,8 ped/m²","x":1.47,"y":0.759},{"serie":"0,8 ped/m²","x":1.49,"y":0.787},{"serie":"0,8 ped/m²","x":1.51,"y":0.805},{"serie":"0,8 ped/m²","x":1.53,"y":0.826},{"serie":"0,8 ped/m²","x":1.55,"y":0.844},{"serie":"0,8 ped/m²","x":1.57,"y":0.854},{"serie":"0,8 ped/m²","x":1.59,"y":0.865},{"serie":"0,8 ped/m²","x":1.61,"y":0.874},{"serie":"0,8 ped/m²","x":1.63,"y":0.884},{"serie":"0,8 ped/m²","x":1.65,"y":0.899},{"serie":"0,8 ped/m²","x":1.67,"y":0.915},{"serie":"0,8 ped/m²","x":1.69,"y":0.935},{"serie":"0,8 ped/m²","x":1.71,"y":0.947},{"serie":"0,8 ped/m²","x":1.73,"y":0.955},{"serie":"0,8 ped/m²","x":1.75,"y":0.965},{"serie":"0,8 ped/m²","x":1.77,"y":0.973},{"serie":"0,8 ped/m²","x":1.79,"y":0.980},{"serie":"0,8 ped/m²","x":1.81,"y":0.986},{"serie":"0,8 ped/m²","x":1.83,"y":0.990},{"serie":"0,8 ped/m²","x":1.85,"y":0.993},{"serie":"0,8 ped/m²","x":1.87,"y":0.995},{"serie":"0,8 ped/m²","x":1.89,"y":0.997},{"serie":"0,8 ped/m²","x":1.91,"y":0.998},{"serie":"0,8 ped/m²","x":1.93,"y":1},{"serie":"0,8 ped/m²","x":1.95,"y":1},{"serie":"0,8 ped/m²","x":1.97,"y":1},{"serie":"0,8 ped/m²","x":1.99,"y":1},{"serie":"0,8 ped/m²","x":2.01,"y":1},{"serie":"0,8 ped/m²","x":2.03,"y":1},{"serie":"0,8 ped/m²","x":2.05,"y":1},{"serie":"0,8 ped/m²","x":2.07,"y":1},{"serie":"0,8 ped/m²","x":2.09,"y":1}
]},
"encoding": {
"x": {"field": "x", "type": "quantitative",
 "scale": {"domain": [0.3, 2.1], "nice": false, "zero": false},
 "axis": {"values": [0.3,0.4,0.5,0.6,0.7,0.8,0.9,1.0,1.1,1.2,1.3,1.4,1.5,1.6,1.7,1.8,1.9,2.0,2.1],
  "labelExpr": "replace(format(datum.value, '.1f'), '.', ',')",
  "title": "Aceleração máxima [m/s²]",
  "grid": true, "gridColor": "#8c8c8c", "gridDash": [8, 5], "gridWidth": 1.5,
  "domain": false, "ticks": true, "tickColor": "#8c8c8c", "tickSize": 5, "tickWidth": 1.5,
  "labelFont": "Liberation Serif", "labelFontWeight": "bold", "labelFontSize": 26, "labelColor": "#595959",
  "labelBaseline": "middle", "labelPadding": 23, "labelFlush": false, "labelOverlap": false,
  "titleFont": "Liberation Serif", "titleFontWeight": "bold", "titleFontSize": 28, "titleColor": "#595959",
  "titleBaseline": "alphabetic", "titleY": 68}},
"y": {"field": "y", "type": "quantitative",
 "scale": {"domain": [0, 1], "nice": false},
 "axis": {"values": [0,0.1,0.2,0.3,0.4,0.5,0.6,0.7,0.8,0.9,1.0],
  "labelExpr": "replace(format(datum.value, '.1f'), '.', ',')",
  "title": ["Distribuição acuumulada de", "probabilidade"],
  "grid": true, "gridColor": "#8c8c8c", "gridDash": [8, 5], "gridWidth": 1.5,
  "domain": false, "ticks": true, "tickColor": "#8c8c8c", "tickSize": 5, "tickWidth": 1.5,
  "labelFont": "Liberation Serif", "labelFontWeight": "bold", "labelFontSize": 25, "labelColor": "#595959",
  "labelPadding": 16, "labelFlush": false, "labelOverlap": false,
  "titleFont": "Liberation Serif", "titleFontWeight": "bold", "titleFontSize": 29, "titleColor": "#595959",
  "titleAngle": -90, "titleAlign": "center", "titleBaseline": "top", "titleX": -108, "titleY": 207, "titleLineHeight": 31}}
},
"layer": [
{
"mark": {"type": "line", "strokeWidth": 2},
"encoding": {
"color": {"field": "serie", "type": "nominal",
 "scale": {"domain": ["0,1 ped/m²","0,2 ped/m²","0,3 ped/m²","0,4 ped/m²","0,5 ped/m²","0,6 ped/m²","0,7 ped/m²","0,8 ped/m²"],
  "range": ["#0099ff","#ff0066","#66ff99","#996633","#ffff00","#990033","#660066","#00ffff"]},
 "legend": {"orient": "none", "legendX": 950, "legendY": 95, "title": null, "direction": "vertical",
  "labelFont": "Liberation Serif", "labelFontWeight": "bold", "labelFontSize": 26, "labelColor": "#595959",
  "labelOffset": 34, "symbolSize": 676, "symbolStrokeWidth": 2, "rowPadding": 11.3, "padding": 6,
  "strokeColor": "#d9d9d9", "fillColor": "white",
  "encode": {"symbols": {"update": {
   "shape": {"signal": "datum.value === '0,1 ped/m²' ? 'M-0.846,0H0.769M1.539,0H3.154M0.769,-0.385H1.539V0.385H0.769Z' : datum.value === '0,2 ped/m²' ? 'M-0.846,0H0.92M1.39,0H3.154M1.154,-0.42L1.578,0.33L0.73,0.33Z' : (datum.value === '0,3 ped/m²' || datum.value === '0,5 ped/m²') ? 'M-0.846,0H3.154M0.8,-0.35L1.5,0.35M0.8,0.35L1.5,-0.35M1.154,-0.46V0.46' : (datum.value === '0,4 ped/m²' || datum.value === '0,8 ped/m²') ? 'M-0.846,0H0.734M1.574,0H3.154M0.734,0A0.42,0.42 0 1,0 1.574,0A0.42,0.42 0 1,0 0.734,0' : datum.value === '0,6 ped/m²' ? 'M-0.846,0H3.154M0.774,-0.38L1.534,0.38M0.774,0.38L1.534,-0.38' : 'M-0.846,0H3.154M1.154,-0.5L1.654,0L1.154,0.5L0.654,0Z'"},
   "fill": {"signal": "datum.value === '0,7 ped/m²' ? '#333366' : 'transparent'"},
   "strokeWidth": {"value": 2}
  }}}}}
}
},
{"transform": [{"filter": {"field": "serie", "equal": "0,1 ped/m²"}}],
 "mark": {"type": "point", "shape": "square", "size": 100, "strokeWidth": 2, "filled": false, "color": "#0099ff", "opacity": 1}},
{"transform": [{"filter": {"field": "serie", "equal": "0,2 ped/m²"}}],
 "mark": {"type": "point", "shape": "triangle-up", "size": 120, "strokeWidth": 2, "filled": false, "color": "#ff0066", "opacity": 1}},
{"transform": [{"filter": {"field": "serie", "equal": "0,3 ped/m²"}}],
 "mark": {"type": "point", "shape": "M-0.9,-0.9L0.9,0.9M-0.9,0.9L0.9,-0.9M0,-1.2V1.2", "size": 110, "strokeWidth": 2.2, "filled": false, "color": "#66ff99", "opacity": 1}},
{"transform": [{"filter": {"field": "serie", "equal": "0,4 ped/m²"}}],
 "mark": {"type": "point", "shape": "circle", "size": 115, "strokeWidth": 2, "filled": false, "color": "#996633", "opacity": 1}},
{"transform": [{"filter": {"field": "serie", "equal": "0,5 ped/m²"}}],
 "mark": {"type": "point", "shape": "M-0.9,-0.9L0.9,0.9M-0.9,0.9L0.9,-0.9M0,-1.2V1.2", "size": 110, "strokeWidth": 2.2, "filled": false, "color": "#ffff00", "opacity": 1}},
{"transform": [{"filter": {"field": "serie", "equal": "0,6 ped/m²"}}],
 "mark": {"type": "point", "shape": "M-1,-1L1,1M-1,1L1,-1", "size": 120, "strokeWidth": 2.6, "filled": false, "color": "#990033", "opacity": 1}},
{"transform": [{"filter": {"field": "serie", "equal": "0,7 ped/m²"}}],
 "mark": {"type": "point", "shape": "diamond", "size": 140, "strokeWidth": 1.5, "filled": true, "fill": "#333366", "stroke": "#660066", "opacity": 1, "fillOpacity": 1}},
{"transform": [{"filter": {"field": "serie", "equal": "0,8 ped/m²"}}],
 "mark": {"type": "point", "shape": "circle", "size": 115, "strokeWidth": 2, "filled": false, "color": "#00ffff", "opacity": 1}}
]
}
